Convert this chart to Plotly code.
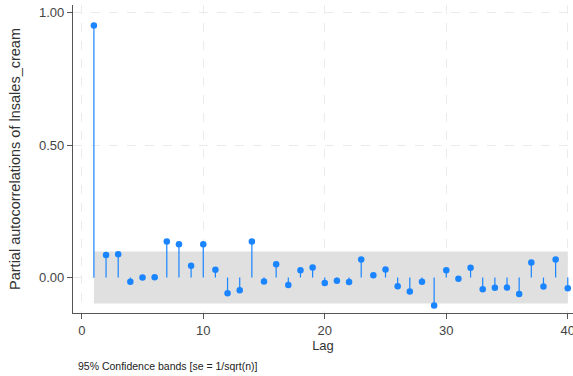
import plotly.graph_objects as go

lags = list(range(1, 41))
pacf = [0.952, 0.085, 0.088, -0.016, 0.000, 0.001, 0.136, 0.126, 0.044, 0.126,
        0.029, -0.059, -0.048, 0.136, -0.015, 0.050, -0.028, 0.027, 0.038, -0.021,
        -0.012, -0.017, 0.068, 0.009, 0.030, -0.033, -0.053, -0.016, -0.106, 0.027,
        -0.005, 0.037, -0.044, -0.039, -0.038, -0.062, 0.057, -0.034, 0.068, -0.041]
band_se = 0.098
x_ticks = [0, 10, 20, 30, 40]
y_ticks = [0.0, 0.5, 1.0]
y_tick_labels = ["0.00", "0.50", "1.00"]

blue = "#1a85ff"
font = "Liberation Sans, Arial, sans-serif"

fig = go.Figure()

# confidence band
fig.add_trace(go.Scatter(
    x=[lags[0], lags[-1], lags[-1], lags[0], lags[0]],
    y=[band_se, band_se, -band_se, -band_se, band_se],
    fill="toself", fillcolor="#e0e0e0", line=dict(width=0),
    mode="lines", hoverinfo="skip", showlegend=False))

# spikes
sx, sy = [], []
for l, v in zip(lags, pacf):
    sx += [l, l, None]
    sy += [0, v, None]
fig.add_trace(go.Scatter(x=sx, y=sy, mode="lines",
                         line=dict(color=blue, width=1.2), showlegend=False))

# markers
fig.add_trace(go.Scatter(x=lags, y=pacf, mode="markers",
                         marker=dict(color=blue, size=6.5), showlegend=False))

fig.update_layout(
    width=573, height=376,
    margin=dict(l=73, r=0, t=5, b=63),
    paper_bgcolor="white", plot_bgcolor="white",
    font=dict(family=font, size=13, color="#333333"),
    annotations=[dict(text="95% Confidence bands [se = 1/sqrt(n)]",
                      xref="paper", yref="paper", x=0.005, y=-0.145,
                      xanchor="left", yanchor="top", showarrow=False,
                      font=dict(size=10.5, color="#222222", family=font))],
)
fig.update_xaxes(
    range=[-0.72, 40.43], tickvals=x_ticks, ticks="outside", ticklen=5,
    tickcolor="#555555", showline=True, linecolor="#555555", linewidth=1.3,
    showgrid=True, gridcolor="#ebebeb", griddash="dash", gridwidth=1,
    zeroline=False, automargin=False, ticklabeloverflow="allow",
    title=dict(text="Lag", standoff=4, font=dict(size=13)),
    tickfont=dict(size=13, color="#444444"))
fig.update_yaxes(
    range=[-0.134, 1.029], tickvals=y_ticks, ticktext=y_tick_labels,
    ticks="outside", ticklen=5, tickcolor="#555555",
    showline=True, linecolor="#555555", linewidth=1.3,
    showgrid=True, gridcolor="#ebebeb", griddash="dash", gridwidth=1,
    zeroline=False, automargin=False,
    title=dict(text="Partial autocorrelations of lnsales_cream", standoff=14,
               font=dict(size=14.5)),
    tickfont=dict(size=13, color="#444444"))

fig.write_html("out.html", config={"displayModeBar": False},
               post_script="document.body.style.margin='0px';document.body.style.overflow='hidden';")
